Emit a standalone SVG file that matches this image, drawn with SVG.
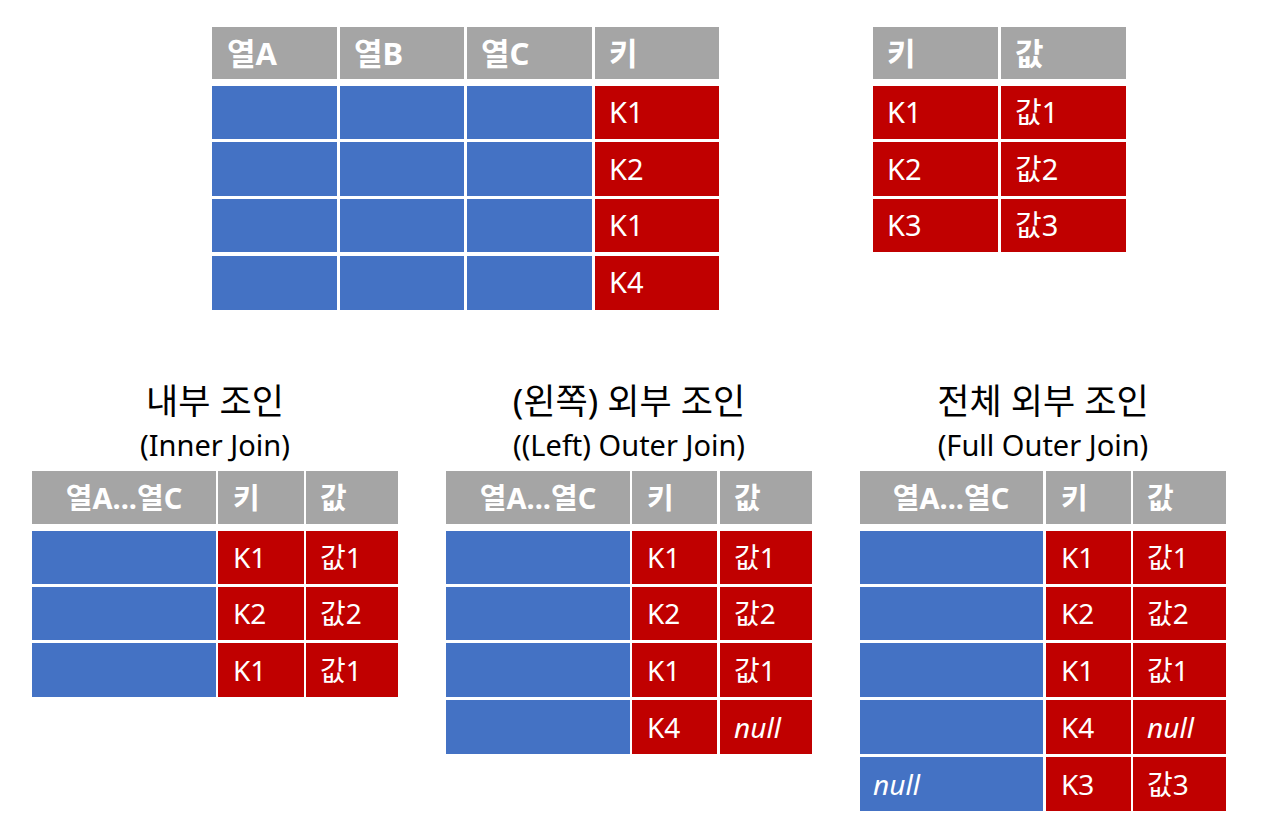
<svg xmlns="http://www.w3.org/2000/svg" width="1268" height="832" viewBox="0 0 1268 832">
<style>
text{font-family:"Noto Sans","Noto Sans CJK KR",sans-serif;}
.h{fill:#A5A5A5;}
.b{fill:#4472C4;}
.r{fill:#C00000;}
.ht{fill:#fff;font-weight:bold;font-size:31px;}
.hb{fill:#fff;font-weight:bold;font-size:29px;}
.t{fill:#fff;font-size:29px;}
.tb{fill:#fff;font-size:28px;}
.i{font-style:italic;}
.ti{fill:#000;font-size:35px;text-anchor:middle;}
.ts{fill:#000;font-size:29px;text-anchor:middle;}
</style>
<rect width="1268" height="832" fill="#fff"/>

<g id="table-left">
<rect class="h" x="212" y="27" width="125" height="52"/>
<rect class="h" x="340" y="27" width="124" height="52"/>
<rect class="h" x="467" y="27" width="125" height="52"/>
<rect class="h" x="595" y="27" width="124" height="52"/>
<text class="ht" x="227" y="65">열A</text>
<text class="ht" x="354" y="65">열B</text>
<text class="ht" x="481" y="65">열C</text>
<text class="ht" x="609" y="65">키</text>
<rect class="b" x="212" y="86" width="125" height="53"/>
<rect class="b" x="340" y="86" width="124" height="53"/>
<rect class="b" x="467" y="86" width="125" height="53"/>
<rect class="r" x="595" y="86" width="124" height="53"/>
<rect class="b" x="212" y="142" width="125" height="54"/>
<rect class="b" x="340" y="142" width="124" height="54"/>
<rect class="b" x="467" y="142" width="125" height="54"/>
<rect class="r" x="595" y="142" width="124" height="54"/>
<rect class="b" x="212" y="199" width="125" height="53"/>
<rect class="b" x="340" y="199" width="124" height="53"/>
<rect class="b" x="467" y="199" width="125" height="53"/>
<rect class="r" x="595" y="199" width="124" height="53"/>
<rect class="b" x="212" y="256" width="125" height="54"/>
<rect class="b" x="340" y="256" width="124" height="54"/>
<rect class="b" x="467" y="256" width="125" height="54"/>
<rect class="r" x="595" y="256" width="124" height="54"/>
<text class="t" x="609" y="123">K1</text>
<text class="t" x="609" y="180">K2</text>
<text class="t" x="609" y="236">K1</text>
<text class="t" x="609" y="293">K4</text>
</g>

<g id="table-right">
<rect class="h" x="873" y="27" width="125" height="52"/>
<rect class="h" x="1001" y="27" width="125" height="52"/>
<text class="ht" x="887" y="65">키</text>
<text class="ht" x="1015" y="65">값</text>
<rect class="r" x="873" y="86" width="125" height="53"/>
<rect class="r" x="1001" y="86" width="125" height="53"/>
<rect class="r" x="873" y="142" width="125" height="54"/>
<rect class="r" x="1001" y="142" width="125" height="54"/>
<rect class="r" x="873" y="199" width="125" height="53"/>
<rect class="r" x="1001" y="199" width="125" height="53"/>
<text class="t" x="887" y="123">K1</text>
<text class="t" x="887" y="180">K2</text>
<text class="t" x="887" y="236">K3</text>
<text class="t" x="1015" y="123">값1</text>
<text class="t" x="1015" y="180">값2</text>
<text class="t" x="1015" y="236">값3</text>
</g>

<g id="inner-join">
<text class="ti" x="215" y="414">내부 조인</text>
<text class="ts" x="215" y="456">(Inner Join)</text>
<rect class="h" x="32" y="471" width="184" height="53"/>
<rect class="h" x="218" y="471" width="86" height="53"/>
<rect class="h" x="306" y="471" width="92" height="53"/>
<text class="hb" x="124" y="509" text-anchor="middle">열A...열C</text>
<text class="hb" x="233" y="509">키</text>
<text class="hb" x="320" y="509">값</text>
<rect class="b" x="32" y="531" width="184" height="53"/>
<rect class="r" x="218" y="531" width="86" height="53"/>
<rect class="r" x="306" y="531" width="92" height="53"/>
<rect class="b" x="32" y="587" width="184" height="53"/>
<rect class="r" x="218" y="587" width="86" height="53"/>
<rect class="r" x="306" y="587" width="92" height="53"/>
<rect class="b" x="32" y="643" width="184" height="54"/>
<rect class="r" x="218" y="643" width="86" height="54"/>
<rect class="r" x="306" y="643" width="92" height="54"/>
<text class="tb" x="233" y="568">K1</text>
<text class="tb" x="233" y="624">K2</text>
<text class="tb" x="233" y="681">K1</text>
<text class="tb" x="320" y="568">값1</text>
<text class="tb" x="320" y="624">값2</text>
<text class="tb" x="320" y="681">값1</text>
</g>

<g id="left-outer-join">
<text class="ti" x="629" y="414">(왼쪽) 외부 조인</text>
<text class="ts" x="629" y="456">((Left) Outer Join)</text>
<rect class="h" x="446" y="471" width="184" height="53"/>
<rect class="h" x="632" y="471" width="85" height="53"/>
<rect class="h" x="720" y="471" width="92" height="53"/>
<text class="hb" x="538" y="509" text-anchor="middle">열A...열C</text>
<text class="hb" x="647" y="509">키</text>
<text class="hb" x="734" y="509">값</text>
<rect class="b" x="446" y="531" width="184" height="53"/>
<rect class="r" x="632" y="531" width="85" height="53"/>
<rect class="r" x="720" y="531" width="92" height="53"/>
<rect class="b" x="446" y="587" width="184" height="53"/>
<rect class="r" x="632" y="587" width="85" height="53"/>
<rect class="r" x="720" y="587" width="92" height="53"/>
<rect class="b" x="446" y="643" width="184" height="54"/>
<rect class="r" x="632" y="643" width="85" height="54"/>
<rect class="r" x="720" y="643" width="92" height="54"/>
<rect class="b" x="446" y="700" width="184" height="54"/>
<rect class="r" x="632" y="700" width="85" height="54"/>
<rect class="r" x="720" y="700" width="92" height="54"/>
<text class="tb" x="647" y="568">K1</text>
<text class="tb" x="647" y="624">K2</text>
<text class="tb" x="647" y="681">K1</text>
<text class="tb" x="647" y="738">K4</text>
<text class="tb" x="734" y="568">값1</text>
<text class="tb" x="734" y="624">값2</text>
<text class="tb" x="734" y="681">값1</text>
<text class="tb i" x="734" y="738">null</text>
</g>

<g id="full-outer-join">
<text class="ti" x="1043" y="414">전체 외부 조인</text>
<text class="ts" x="1043" y="456">(Full Outer Join)</text>
<rect class="h" x="860" y="471" width="183" height="53"/>
<rect class="h" x="1046" y="471" width="85" height="53"/>
<rect class="h" x="1133" y="471" width="93" height="53"/>
<text class="hb" x="951" y="509" text-anchor="middle">열A...열C</text>
<text class="hb" x="1061" y="509">키</text>
<text class="hb" x="1147" y="509">값</text>
<rect class="b" x="860" y="531" width="183" height="53"/>
<rect class="r" x="1046" y="531" width="85" height="53"/>
<rect class="r" x="1133" y="531" width="93" height="53"/>
<rect class="b" x="860" y="587" width="183" height="53"/>
<rect class="r" x="1046" y="587" width="85" height="53"/>
<rect class="r" x="1133" y="587" width="93" height="53"/>
<rect class="b" x="860" y="643" width="183" height="54"/>
<rect class="r" x="1046" y="643" width="85" height="54"/>
<rect class="r" x="1133" y="643" width="93" height="54"/>
<rect class="b" x="860" y="700" width="183" height="54"/>
<rect class="r" x="1046" y="700" width="85" height="54"/>
<rect class="r" x="1133" y="700" width="93" height="54"/>
<rect class="b" x="860" y="757" width="183" height="54"/>
<rect class="r" x="1046" y="757" width="85" height="54"/>
<rect class="r" x="1133" y="757" width="93" height="54"/>
<text class="tb" x="1061" y="568">K1</text>
<text class="tb" x="1061" y="624">K2</text>
<text class="tb" x="1061" y="681">K1</text>
<text class="tb" x="1061" y="738">K4</text>
<text class="tb" x="1061" y="795">K3</text>
<text class="tb" x="1147" y="568">값1</text>
<text class="tb" x="1147" y="624">값2</text>
<text class="tb" x="1147" y="681">값1</text>
<text class="tb i" x="1147" y="738">null</text>
<text class="tb" x="1147" y="795">값3</text>
<text class="tb i" x="873" y="795">null</text>
</g>
</svg>
